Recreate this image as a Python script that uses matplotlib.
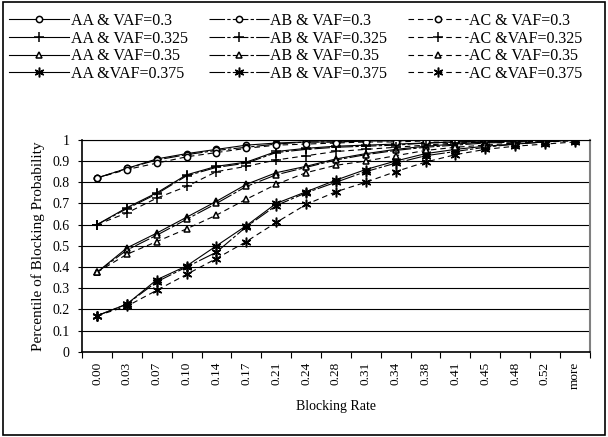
import matplotlib.pyplot as plt
from matplotlib.patches import Rectangle

plt.rcParams["font.family"] = ["Liberation Serif", "DejaVu Serif"]

categories = ["0.00", "0.03", "0.07", "0.10", "0.14", "0.17", "0.21", "0.24", "0.28",
              "0.31", "0.34", "0.38", "0.41", "0.45", "0.48", "0.52", "more"]

# VAF = 0.3
aa_03 = [0.82, 0.865, 0.91, 0.935, 0.955, 0.975, 0.985, 0.99, 0.99, 0.995, 1, 1, 1, 1, 1, 1, 1]
ab_03 = [0.82, 0.865, 0.905, 0.93, 0.95, 0.965, 0.98, 0.99, 0.99, 0.995, 0.995, 1, 1, 1, 1, 1, 1]
ac_03 = [0.82, 0.86, 0.89, 0.92, 0.94, 0.96, 0.975, 0.98, 0.985, 0.99, 0.99, 0.995, 0.995, 1, 1, 1, 1]

# VAF = 0.325
aa_0325 = [0.6, 0.68, 0.75, 0.835, 0.875, 0.895, 0.945, 0.96, 0.97, 0.975, 0.98, 0.985, 0.99, 0.995, 1, 1, 1]
ab_0325 = [0.6, 0.675, 0.745, 0.83, 0.87, 0.89, 0.94, 0.955, 0.965, 0.97, 0.975, 0.985, 0.99, 0.99, 0.995, 1, 1]
ac_0325 = [0.6, 0.655, 0.725, 0.78, 0.85, 0.875, 0.905, 0.925, 0.945, 0.955, 0.965, 0.975, 0.985, 0.99, 0.99, 0.995, 1]

# VAF = 0.35
aa_035 = [0.375, 0.49, 0.56, 0.635, 0.71, 0.79, 0.845, 0.875, 0.91, 0.935, 0.955, 0.97, 0.98, 0.99, 0.995, 1, 1]
ab_035 = [0.375, 0.48, 0.55, 0.625, 0.70, 0.78, 0.835, 0.87, 0.905, 0.93, 0.95, 0.965, 0.975, 0.985, 0.99, 0.995, 1]
ac_035 = [0.375, 0.46, 0.52, 0.58, 0.645, 0.72, 0.79, 0.845, 0.88, 0.90, 0.925, 0.95, 0.965, 0.975, 0.985, 0.99, 0.995]

# VAF = 0.375
aa_0375 = [0.17, 0.225, 0.34, 0.405, 0.50, 0.595, 0.70, 0.755, 0.81, 0.86, 0.90, 0.935, 0.955, 0.97, 0.98, 0.99, 1]
ab_0375 = [0.17, 0.225, 0.33, 0.40, 0.47, 0.59, 0.69, 0.75, 0.80, 0.85, 0.89, 0.925, 0.945, 0.965, 0.98, 0.99, 1]
ac_0375 = [0.17, 0.215, 0.29, 0.365, 0.44, 0.52, 0.61, 0.695, 0.755, 0.80, 0.85, 0.895, 0.93, 0.955, 0.97, 0.98, 0.99]

AB_LS = (0, (14, 2, 3, 2))
AC_LS = (0, (5, 3.5))
STAR = (6, 2, 0)

series = [
    ("AA & VAF=0.3", aa_03, "o", "-"),
    ("AA & VAF=0.325", aa_0325, "+", "-"),
    ("AA & VAF=0.35", aa_035, "^", "-"),
    ("AA &VAF=0.375", aa_0375, STAR, "-"),
    ("AB & VAF=0.3", ab_03, "o", AB_LS),
    ("AB & VAF=0.325", ab_0325, "+", AB_LS),
    ("AB & VAF=0.35", ab_035, "^", AB_LS),
    ("AB & VAF=0.375", ab_0375, STAR, AB_LS),
    ("AC & VAF=0.3", ac_03, "o", AC_LS),
    ("AC &VAF=0.325", ac_0325, "+", AC_LS),
    ("AC & VAF=0.35", ac_035, "^", AC_LS),
    ("AC &VAF=0.375", ac_0375, STAR, AC_LS),
]

fig = plt.figure(figsize=(6.08, 4.37), dpi=100)
ax = fig.add_axes([0.135, 0.195, 0.835, 0.485])

x = list(range(len(categories)))
for label, values, marker, ls in series:
    size = 7 if marker in ("+", STAR) else 4.5
    ax.plot(x, values, color="black", linestyle=ls, linewidth=0.8,
            marker=marker, markersize=size, markerfacecolor="white",
            markeredgecolor="black", markeredgewidth=1.1, label=label)

ax.set_xlim(-0.5, len(categories) - 0.5)
ax.set_ylim(0, 1)
ax.set_yticks([i / 10 for i in range(11)])
ax.set_yticklabels(["0"] + [f"{i / 10:.1f}" for i in range(1, 10)] + ["1"])
ax.yaxis.grid(True, color="black", linewidth=0.8)
ax.set_axisbelow(True)

ax.set_xticks(x)
ax.set_xticklabels(categories, rotation=90)
ax.set_xticks([i - 0.5 for i in range(len(categories) + 1)], minor=True)
ax.tick_params(axis="x", which="major", length=0, labelsize=9.5, pad=7)
ax.tick_params(axis="x", which="minor", length=4, width=0.8, direction="out")
ax.tick_params(axis="y", length=3, labelsize=10, pad=6)

ax.spines["top"].set_color("black")
ax.spines["right"].set_color("#808080")
ax.spines["right"].set_linewidth(1.5)
for side in ("left", "bottom"):
    ax.spines[side].set_linewidth(1.2)

ax.set_xlabel("Blocking Rate", fontsize=10, labelpad=8)
ax.set_ylabel("Percentile of Blocking Probability", fontsize=11, labelpad=5)

fig.legend(loc="upper left", bbox_to_anchor=(0.005, 0.985), ncol=3, frameon=False,
           fontsize=11.5, handlelength=3.75, handletextpad=0.1, columnspacing=1.3,
           labelspacing=0.1, borderaxespad=0)

fig.patches.append(Rectangle((0.005, 0.005), 0.99, 0.99, transform=fig.transFigure,
                             fill=False, edgecolor="black", linewidth=1.2))

fig.savefig("out.png", dpi=100)
